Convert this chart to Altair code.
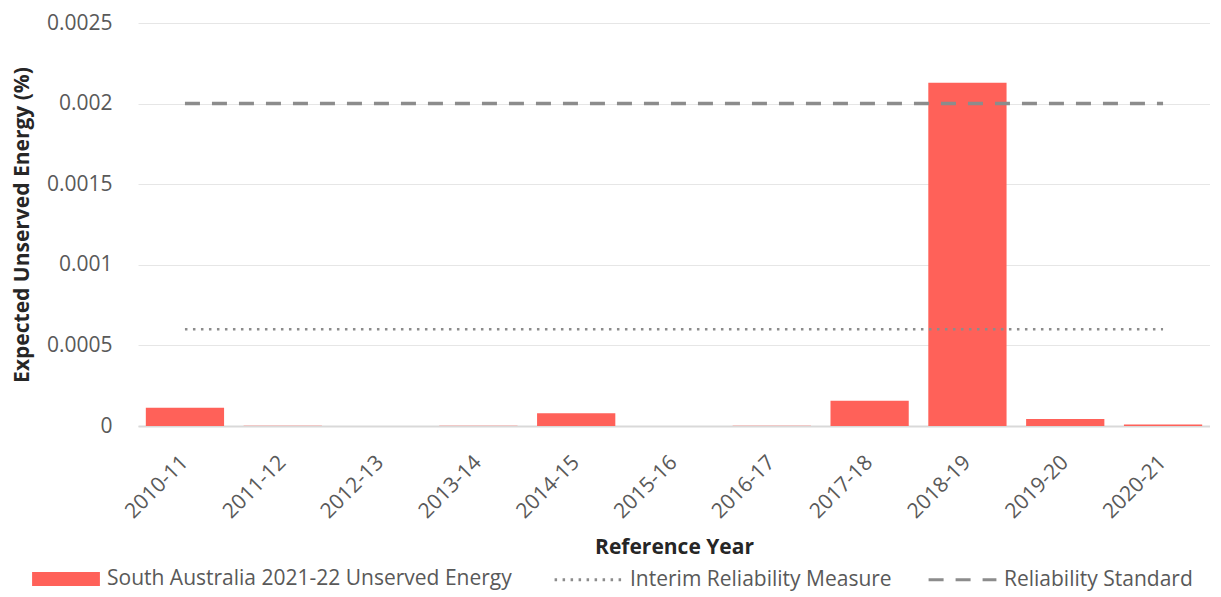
import altair as alt
import pandas as pd

years = ["2010-11", "2011-12", "2012-13", "2013-14", "2014-15", "2015-16",
         "2016-17", "2017-18", "2018-19", "2019-20", "2020-21"]
use_values = [0.000113, 0.000002, 0.0, 0.000002, 0.000079, 0.0,
              0.000002, 0.000156, 0.00213, 0.000044, 0.00001]
bar_series = "South Australia 2021-22 Unserved Energy"
line_series = ["Interim Reliability Measure", "Reliability Standard"]
line_values = [0.0006, 0.002]

FONT = "Open Sans"
FS = 21
RED = "#FF6159"
GREY = "#8C8C8C"

bars_df = pd.DataFrame({"year": years, "value": use_values, "series": bar_series})
lines_df = pd.DataFrame({
    "year": [years[0], years[-1], years[0], years[-1]],
    "value": [line_values[0], line_values[0], line_values[1], line_values[1]],
    "lseries": [line_series[0], line_series[0], line_series[1], line_series[1]],
})

x_enc = alt.X("year:N", sort=years, title="Reference Year",
              scale=alt.Scale(paddingInner=0.2, paddingOuter=0.08),
              axis=alt.Axis(labelAngle=-45, labelAlign="right", labelBaseline="middle",
                            ticks=False, domainColor="#D9D9D9", domainWidth=2,
                            labelPadding=33, titlePadding=15, grid=False))
y_scale = alt.Scale(domain=[0, 0.0025])

bars = alt.Chart(bars_df).mark_bar().encode(
    x=x_enc,
    y=alt.Y("value:Q", scale=y_scale, title="Expected Unserved Energy (%)",
            axis=alt.Axis(values=[0, 0.0005, 0.001, 0.0015, 0.002, 0.0025],
                          format=".4~f", domain=False, ticks=False,
                          gridColor="#E6E6E6", labelPadding=26, titlePadding=14)),
    color=alt.Color("series:N", scale=alt.Scale(domain=[bar_series], range=[RED]),
                    legend=alt.Legend(orient="none", legendX=-107, legendY=521,
                                      title=None, symbolType="M-1,-0.21L1,-0.21L1,0.21L-1,0.21Z",
                                      symbolSize=4600, labelOffset=6, padding=0)),
)

dash_scale = alt.Scale(domain=line_series, range=[[2.5, 5.5], [15, 12]])
dash_legend = alt.Legend(orient="none", legendX=415, legendY=521, title=None,
                         direction="horizontal", symbolType="stroke", symbolSize=4600,
                         symbolStrokeColor=GREY, symbolStrokeWidth=3,
                         labelOffset=6, columnPadding=30, padding=0)

dotted = alt.Chart(lines_df).transform_filter(
    alt.datum.lseries == line_series[0]
).mark_line(color=GREY, strokeWidth=2.5).encode(
    x=alt.X("year:N", sort=years),
    y=alt.Y("value:Q", scale=y_scale),
    strokeDash=alt.StrokeDash("lseries:N", scale=dash_scale, legend=dash_legend),
)
dashed = alt.Chart(lines_df).transform_filter(
    alt.datum.lseries == line_series[1]
).mark_line(color=GREY, strokeWidth=3.5).encode(
    x=alt.X("year:N", sort=years),
    y=alt.Y("value:Q", scale=y_scale),
    strokeDash=alt.StrokeDash("lseries:N", scale=dash_scale, legend=dash_legend),
)

chart = alt.layer(bars, dotted, dashed).properties(
    width=1072, height=403, padding={"top": 4, "left": 3, "right": 0, "bottom": 4}
).configure_view(stroke=None).configure_axis(
    labelFont=FONT, titleFont=FONT, labelFontSize=FS, titleFontSize=FS,
    labelColor="#595959", titleColor="#262626", titleFontWeight="bold",
).configure_legend(
    labelFont=FONT, labelFontSize=FS, labelColor="#595959", labelLimit=1000,
)

chart.save("out.html", embed_options={"renderer": "svg", "actions": False})
